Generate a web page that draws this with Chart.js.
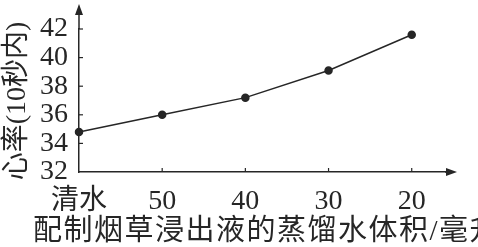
<!DOCTYPE html>
<html>
<head>
<meta charset="utf-8">
<script src="https://cdn.jsdelivr.net/npm/chart.js@4/dist/chart.umd.min.js"></script>
<style>
  html, body { margin: 0; padding: 0; background: #fff; }
  #heartChart { display: block; }
</style>
</head>
<body>
<canvas id="heartChart" width="478" height="247"></canvas>
<script>
const categories = ["清水", "50", "40", "30", "20"];
const heartRates = [34.8, 36.0, 37.2, 39.1, 41.6];
const yTicks = [32, 34, 36, 38, 40, 42];
const xTitle = "配制烟草浸出液的蒸馏水体积/毫升";
const yTitle = "心率(10秒内)";

const inkColor = "#262626";
const fontFamily = "'Liberation Serif', 'Noto Sans CJK SC', serif";

// axes with inward ticks, arrow heads and the two titles, placed from the library scales
const axisArrows = {
  id: "axisArrows",
  afterDraw(chart) {
    const { ctx, chartArea, scales } = chart;
    const x0 = chartArea.left;
    const y0 = chartArea.bottom;
    ctx.save();
    ctx.strokeStyle = inkColor;
    ctx.fillStyle = inkColor;
    ctx.lineWidth = 1.5;

    ctx.beginPath();
    ctx.moveTo(x0, chartArea.top);
    ctx.lineTo(x0, 10);
    ctx.stroke();
    ctx.beginPath();
    ctx.moveTo(x0, 4);
    ctx.lineTo(x0 - 4, 15);
    ctx.lineTo(x0 + 4, 15);
    ctx.closePath();
    ctx.fill();

    const xEnd = chartArea.right;
    ctx.beginPath();
    ctx.moveTo(xEnd, y0);
    ctx.lineTo(xEnd + 4, y0);
    ctx.stroke();
    ctx.beginPath();
    ctx.moveTo(xEnd + 12, y0);
    ctx.lineTo(xEnd + 1, y0 - 4);
    ctx.lineTo(xEnd + 1, y0 + 4);
    ctx.closePath();
    ctx.fill();

    ctx.lineWidth = 1.2;
    yTicks.slice(1).forEach((v) => {
      const py = scales.y.getPixelForValue(v);
      ctx.beginPath();
      ctx.moveTo(x0, py);
      ctx.lineTo(x0 + 4, py);
      ctx.stroke();
    });
    categories.slice(1).forEach((c, i) => {
      const px = scales.x.getPixelForValue(i + 1);
      ctx.beginPath();
      ctx.moveTo(px, y0);
      ctx.lineTo(px, y0 - 4);
      ctx.stroke();
    });

    ctx.textBaseline = "middle";
    ctx.textAlign = "left";
    ctx.font = `29px ${fontFamily}`;
    ctx.letterSpacing = "1.5px";
    ctx.fillText(xTitle, 33, 232);
    ctx.letterSpacing = "0px";

    ctx.translate(18, 101);
    ctx.rotate(-Math.PI / 2);
    ctx.textAlign = "center";
    ctx.font = `28px ${fontFamily}`;
    ctx.fillText(yTitle, 0, 0);
    ctx.restore();
  },
};

new Chart(document.getElementById("heartChart"), {
  type: "line",
  data: {
    datasets: [{
      data: heartRates.map((v, i) => ({ x: i, y: v })),
      borderColor: inkColor,
      borderWidth: 1.5,
      pointRadius: 3.5,
      pointBackgroundColor: inkColor,
      pointBorderColor: inkColor,
      tension: 0,
      clip: false,
    }],
  },
  options: {
    responsive: false,
    animation: false,
    layout: { padding: { top: 29, right: 33, left: 0, bottom: 0 } },
    plugins: { legend: { display: false }, tooltip: { enabled: false } },
    scales: {
      x: {
        type: "linear",
        min: 0,
        max: 4.4,
        afterFit: (scale) => { scale.height = 75; },
        ticks: {
          stepSize: 1,
          includeBounds: false,
          autoSkip: false,
          maxRotation: 0,
          padding: 13,
          color: inkColor,
          font: { family: fontFamily, size: 28 },
          callback: (v) => (Number.isInteger(v) ? categories[v] : ""),
        },
        grid: { display: false, drawTicks: false },
        border: { display: true, color: inkColor, width: 1.5 },
      },
      y: {
        min: yTicks[0],
        max: yTicks[yTicks.length - 1],
        afterFit: (scale) => { scale.width = 79; },
        afterBuildTicks: (scale) => { scale.ticks = yTicks.map((v) => ({ value: v })); },
        ticks: {
          autoSkip: false,
          padding: 11,
          color: inkColor,
          font: { family: fontFamily, size: 28 },
        },
        grid: { display: false, drawTicks: false },
        border: { display: true, color: inkColor, width: 1.5 },
      },
    },
  },
  plugins: [axisArrows],
});
</script>
</body>
</html>
